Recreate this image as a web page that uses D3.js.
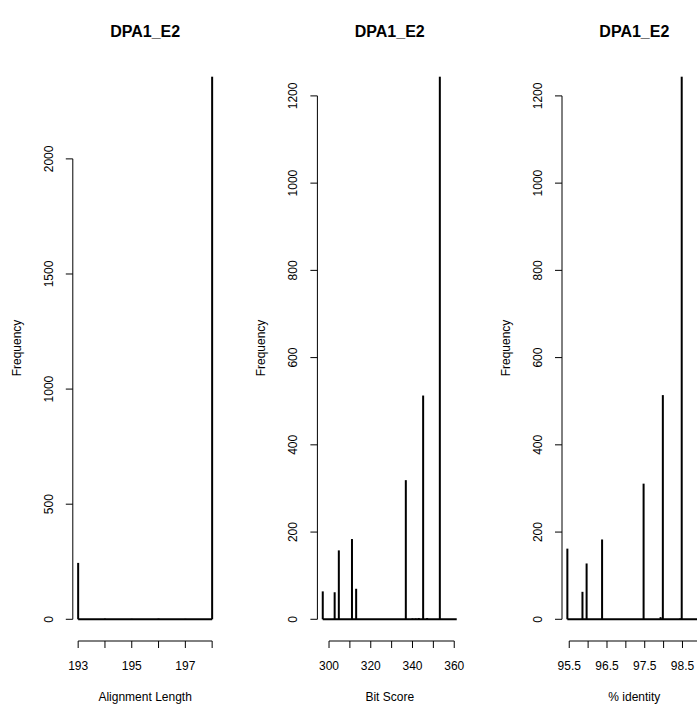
<!DOCTYPE html>
<html>
<head>
<meta charset="utf-8">
<script src="https://cdn.jsdelivr.net/npm/d3@7"></script>
<style>
body{margin:0;background:#fff;}
text{font-family:"Liberation Sans",Arial,sans-serif;fill:#000;}
</style>
</head>
<body>
<svg width="697" height="704"></svg>
<script>
// panel texts
var titles = ['DPA1_E2','DPA1_E2','DPA1_E2'];
var xTitles = ['Alignment Length','Bit Score','% identity'];

// alignment length
var lenValues = [193,194,195,196,197,198];
var lenCounts = [245,3,2,3,2,2357];
var lenBreaks = [193,198];
var lenXTicks = [193,194,195,196,197,198];
var lenXLabels = ['193','','195','','197',''];
var lenYTicks = [0,500,1000,1500,2000];

// bit score
var bitValues = [297.0,302.7,304.7,311.0,313.0,336.8,340.0,341.5,343.0,345.1,347.0,353.1];
var bitCounts = [64,62,158,184,70,319,2,2,3,513,3,1244];
var bitBreaks = [297,361.2];
var bitXTicks = [300,310,320,330,340,350,360];
var bitXLabels = ['300','','320','','340','','360'];
var bitYTicks = [0,200,400,600,800,1000,1200];

// % identity
var idValues = [95.45,95.85,95.96,96.37,97.47,97.92,97.98,98.44,98.48];
var idCounts = [162,63,128,183,311,5,514,2,1244];
var idBreaks = [95.45,99.0];
var idXTicks = [95.5,96,96.5,97,97.5,98,98.5,99];
var idXLabels = ['95.5','','96.5','','97.5','','98.5',''];
var idYTicks = [0,200,400,600,800,1000,1200];

var svg = d3.select('svg');
var plotLeft = 72.8, panelStep = 244.6, plotW = 144.7;
var plotTop = 55, plotBottom = 641;
var tick = 7;

function drawPanel(k, values, counts, breaks, xTicks, xLabels, yTicks){
	var left = plotLeft + k*panelStep;
	var d = breaks[1]-breaks[0];
	var xscale = d3.scaleLinear()
		.domain([breaks[0]-0.04*d, breaks[1]+0.04*d])
		.range([left, left+plotW]);
	var ymax = d3.max(counts);
	var yscale = d3.scaleLinear()
		.domain([-0.04*ymax, 1.04*ymax])
		.range([plotBottom, plotTop]);

	var g = svg.append('g');

	// empty bins form the baseline
	g.append('line')
		.attr('x1', xscale(breaks[0])).attr('x2', xscale(breaks[1]))
		.attr('y1', yscale(0)).attr('y2', yscale(0))
		.attr('stroke','#000').attr('stroke-width',2);

	g.selectAll('rect.bar').data(values)
	.enter()
	.append('rect')
	.attr('class','bar')
	.attr('x', v => xscale(v)-1)
	.attr('width', 2)
	.attr('y', (v,i) => yscale(counts[i]))
	.attr('height', (v,i) => yscale(0)-yscale(counts[i]))
	.attr('fill','#000');

	// x axis
	var xa = g.append('g').attr('transform',`translate(0,${plotBottom})`);
	xa.append('line')
		.attr('x1', xscale(xTicks[0])).attr('x2', xscale(xTicks[xTicks.length-1]))
		.attr('stroke','#000');
	xa.selectAll('line.t').data(xTicks).enter().append('line')
		.attr('class','t')
		.attr('x1', v => xscale(v)).attr('x2', v => xscale(v))
		.attr('y1', 0).attr('y2', tick)
		.attr('stroke','#000');
	xa.selectAll('text').data(xTicks).enter().append('text')
		.attr('x', v => xscale(v))
		.attr('y', 28.5)
		.attr('text-anchor','middle')
		.attr('font-size','12px')
		.text((v,i) => xLabels[i]);

	// y axis
	var ya = g.append('g').attr('transform',`translate(${left},0)`);
	ya.append('line')
		.attr('y1', yscale(yTicks[0])).attr('y2', yscale(yTicks[yTicks.length-1]))
		.attr('stroke','#000');
	ya.selectAll('line.t').data(yTicks).enter().append('line')
		.attr('class','t')
		.attr('x1', 0).attr('x2', -tick)
		.attr('y1', v => yscale(v)).attr('y2', v => yscale(v))
		.attr('stroke','#000');
	ya.selectAll('text').data(yTicks).enter().append('text')
		.attr('transform', v => `translate(-20,${yscale(v)}) rotate(-90)`)
		.attr('text-anchor','middle')
		.attr('font-size','12px')
		.text(v => v);

	// titles
	var cx = left + plotW/2;
	g.append('text')
		.attr('x', cx).attr('y', 37)
		.attr('text-anchor','middle')
		.attr('font-size','16px')
		.attr('font-weight','bold')
		.text(titles[k]);
	g.append('text')
		.attr('x', cx).attr('y', 701)
		.attr('text-anchor','middle')
		.attr('font-size','12px')
		.text(xTitles[k]);
	g.append('text')
		.attr('transform', `translate(${left-52},${(plotTop+plotBottom)/2}) rotate(-90)`)
		.attr('text-anchor','middle')
		.attr('font-size','12px')
		.text('Frequency');
}

drawPanel(0, lenValues, lenCounts, lenBreaks, lenXTicks, lenXLabels, lenYTicks);
drawPanel(1, bitValues, bitCounts, bitBreaks, bitXTicks, bitXLabels, bitYTicks);
drawPanel(2, idValues, idCounts, idBreaks, idXTicks, idXLabels, idYTicks);
</script>
</body>
</html>
